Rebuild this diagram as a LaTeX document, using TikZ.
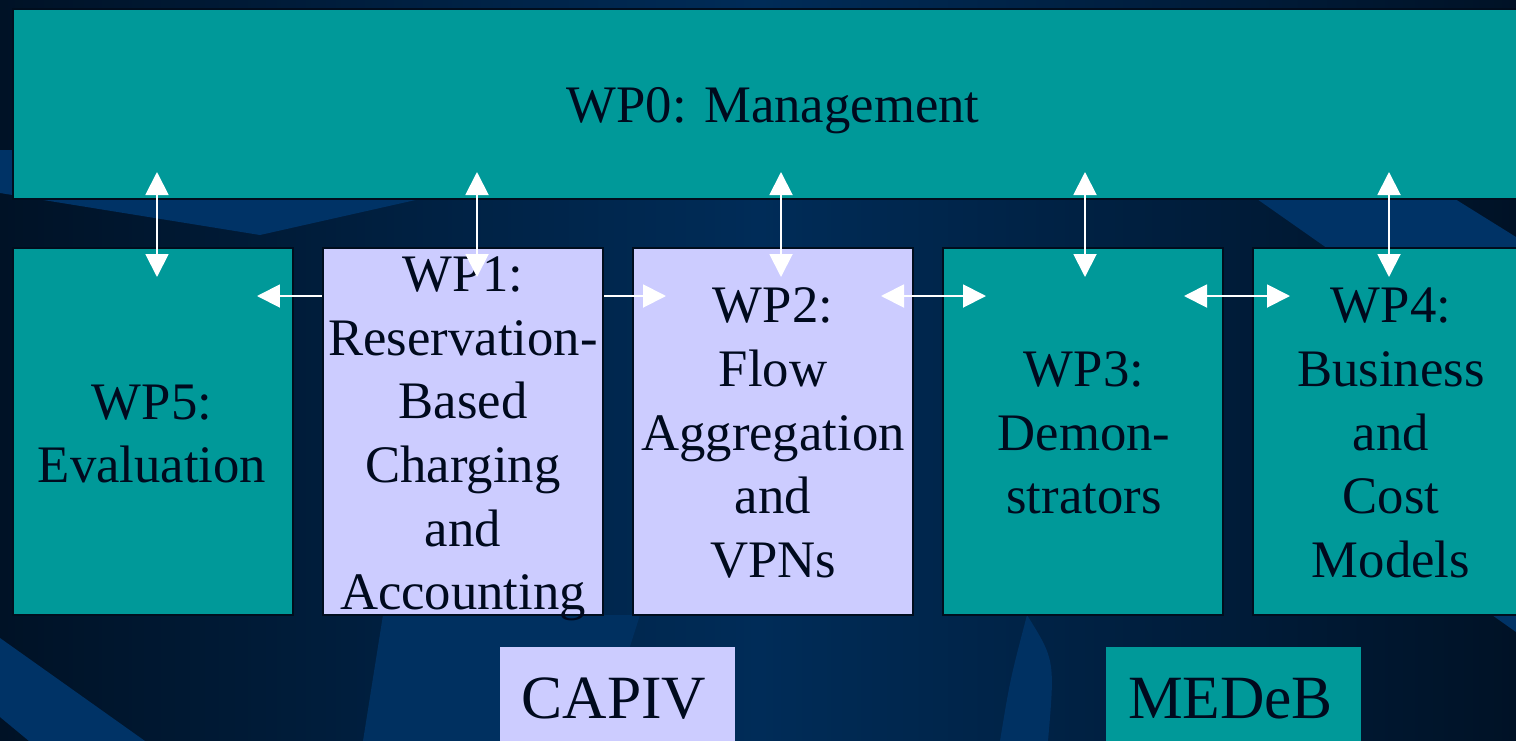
\documentclass[tikz,border=0pt]{standalone}
\usepackage{fontspec}
\setmainfont{Liberation Serif}
\usetikzlibrary{arrows.meta}

\definecolor{wpteal}{RGB}{0,153,153}
\definecolor{wplilac}{RGB}{204,204,255}
\definecolor{ink}{RGB}{0,10,30}
\definecolor{edge}{RGB}{0,14,30}
\definecolor{navydark}{RGB}{0,18,38}
\definecolor{navymid}{RGB}{0,44,88}
\definecolor{navylight}{RGB}{0,51,102}

\tikzset{
	wpbox/.style={draw=edge, line width=1.2pt, fill=wpteal, minimum width=5.6cm, minimum height=7.34cm, inner sep=0pt},
	wptext/.style={text=ink, align=center, font=\fontsize{30}{36.25}\selectfont},
	tagbox/.style={inner sep=0pt, minimum height=2.46cm},
	tagtext/.style={text=ink, anchor=base, inner sep=0pt, font=\fontsize{35}{42}\selectfont},
	link/.style={white, line width=1.1pt, {Triangle[length=0.46cm,width=0.46cm]}-{Triangle[length=0.46cm,width=0.46cm]}},
	onelink/.style={white, line width=1.1pt, -{Triangle[length=0.46cm,width=0.46cm]}}
}

\begin{document}
\begin{tikzpicture}[x=0.02cm,y=-0.02cm]
		\useasboundingbox (0,0) rectangle (1516,741);
		\clip (0,0) rectangle (1516,741);
		\shade[left color=navydark, right color=navydark, middle color=navymid] (0,0) rectangle (1516,741);
		\fill[navylight] (0,150) -- (0,193) -- (260,235) -- (420,199) -- (420,150) -- cycle;
		\fill[navylight] (1257,199) -- (1455,199) -- (1516,237) -- (1516,300) -- (1401,300) -- cycle;
		\fill[navylight] (1492,615) -- (1516,615) -- (1516,632) -- cycle;
		\fill[navylight] (0,638) -- (145,741) -- (29,741) -- (0,717) -- cycle;
		\fill[navylight!55!navymid] (383,615) -- (640,615) -- (600,741) -- (363,741) -- cycle;
		\fill[navylight!70!navymid] (1027,615) .. controls (1055,660) .. (1048,741) -- (1000,741) .. controls (1010,680) .. cycle;

		\node[wpbox, minimum width=30.34cm, minimum height=3.8cm] (wp0) at (771.5,104) {};
		\node[wpbox] (wp5) at (153,431.5) {};
		\node[wpbox, fill=wplilac] (wp1) at (463,431.5) {};
		\node[wpbox, fill=wplilac] (wp2) at (773,431.5) {};
		\node[wpbox] (wp3) at (1083,431.5) {};
		\node[wpbox] (wp4) at (1393,431.5) {};
		\node[tagbox, fill=wplilac, minimum width=4.7cm] (capiv) at (617.5,708.5) {};
		\node[tagbox, fill=wpteal, minimum width=5.1cm] (medeb) at (1233.5,708.5) {};

		\node[wptext] (t0) at (773,110.5) {WP0: Management};
		\node[wptext] (t5) at (152,434) {WP5:\\Evaluation};
		\node[wptext] (t1) at (463,439) {WP1:\\Reservation-\\Based\\Charging\\and\\Accounting};
		\node[wptext] (t2) at (773,433) {WP2:\\Flow\\Aggregation\\and\\VPNs};
		\node[wptext] (t3) at (1084,433) {WP3:\\Demon-\\strators};
		\node[wptext] (t4) at (1391,433) {WP4:\\Business\\and\\Cost\\Models};
		\node[tagtext] (capivt) at (614,718) {CAPIV};
		\node[tagtext] (medebt) at (1230.5,718) {MEDeB};

		\coordinate (a5) at (157,172); \coordinate (b5) at (157,277);
		\coordinate (a1) at (477,172); \coordinate (b1) at (477,277);
		\coordinate (a2) at (781,172); \coordinate (b2) at (781,277);
		\coordinate (a3) at (1085,172); \coordinate (b3) at (1085,277);
		\coordinate (a4) at (1389,172); \coordinate (b4) at (1389,277);
		\draw[link] (a5) -- (b5);
		\draw[link] (a1) -- (b1);
		\draw[link] (a2) -- (b2);
		\draw[link] (a3) -- (b3);
		\draw[link] (a4) -- (b4);

		\coordinate (l1) at (257,296); \coordinate (r1) at (666,296);
		\coordinate (l3) at (881,296); \coordinate (r3) at (986,296);
		\coordinate (l4) at (1184,296); \coordinate (r4) at (1290,296);
		\draw[onelink] (wp1.west |- l1) -- (l1);
		\draw[onelink] (wp1.east |- r1) -- (r1);
		\draw[link] (l3) -- (r3);
		\draw[link] (l4) -- (r4);
	\end{tikzpicture}
\end{document}
